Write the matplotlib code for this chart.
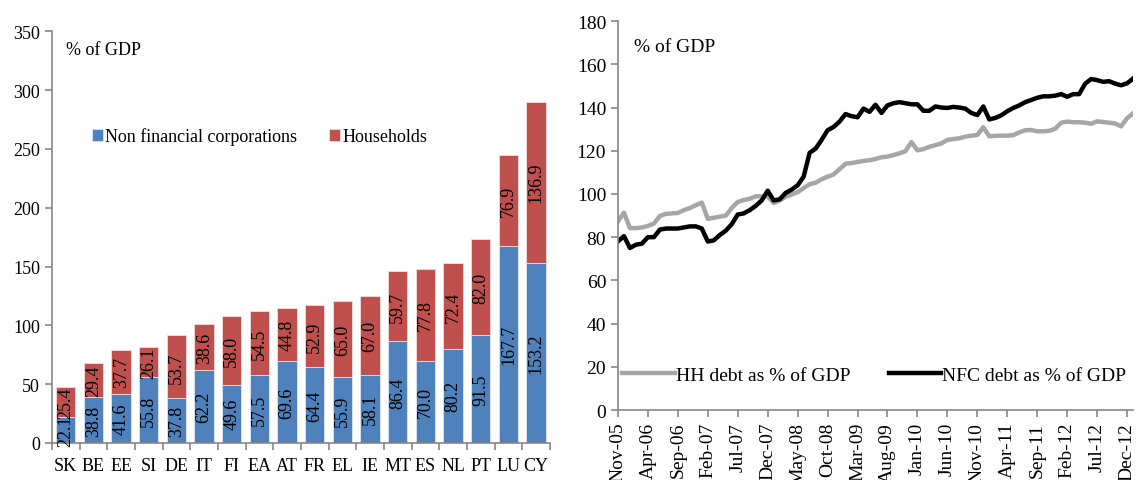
import matplotlib
matplotlib.use("Agg")
import matplotlib.pyplot as plt
import numpy as np

plt.rcParams['font.family'] = ['Liberation Serif', 'DejaVu Serif']

# Left panel: debt by sector, % of GDP
countries = ['SK', 'BE', 'EE', 'SI', 'DE', 'IT', 'FI', 'EA', 'AT', 'FR',
             'EL', 'IE', 'MT', 'ES', 'NL', 'PT', 'LU', 'CY']
nfc_share = [22.1, 38.8, 41.6, 55.8, 37.8, 62.2, 49.6, 57.5, 69.6, 64.4,
             55.9, 58.1, 86.4, 70.0, 80.2, 91.5, 167.7, 153.2]
hh_share = [25.4, 29.4, 37.7, 26.1, 53.7, 38.6, 58.0, 54.5, 44.8, 52.9,
            65.0, 67.0, 59.7, 77.8, 72.4, 82.0, 76.9, 136.9]

# Right panel: monthly series Nov-05 .. Jan-13
hh_debt = [87.3, 91.3, 84.2, 84.2, 84.5, 85.2, 86.3, 89.8, 90.8, 91.0,
           91.2, 92.5, 93.5, 94.8, 96.0, 88.5, 89.0, 89.5, 90.0, 93.5,
           96.3, 97.2, 97.8, 98.9, 98.9, 98.9, 95.8, 97.0, 98.7, 99.8,
           100.8, 102.7, 104.5, 105.2, 106.8, 108.0, 109.0, 111.5, 114.0, 114.3,
           114.8, 115.3, 115.6, 116.2, 117.0, 117.3, 118.0, 118.8, 119.8, 124.0,
           120.2, 120.8, 121.8, 122.6, 123.4, 125.0, 125.4, 125.8, 126.5, 127.0,
           127.3, 130.9, 126.7, 126.9, 127.0, 127.0, 127.2, 128.5, 129.5, 129.6,
           129.0, 129.0, 129.2, 130.2, 133.0, 133.5, 133.2, 133.2, 133.0, 132.5,
           133.6, 133.3, 133.0, 132.6, 131.3, 135.0, 137.3]
nfc_debt = [78.0, 80.5, 75.0, 76.5, 77.0, 80.0, 80.0, 83.5, 84.0, 84.0,
            84.0, 84.5, 85.0, 85.0, 84.0, 78.0, 78.5, 81.0, 83.0, 86.0,
            90.5, 91.0, 92.5, 94.5, 97.0, 101.5, 97.0, 97.5, 100.5, 102.0,
            104.0, 108.0, 119.0, 121.0, 125.0, 129.5, 131.0, 133.5, 137.0, 136.0,
            135.5, 139.5, 138.0, 141.3, 137.5, 141.0, 142.0, 142.5, 142.0, 141.5,
            141.5, 138.5, 138.5, 140.5, 140.0, 139.8, 140.3, 140.0, 139.5, 137.5,
            136.5, 140.5, 134.5, 135.2, 136.4, 138.3, 139.8, 141.0, 142.5, 143.5,
            144.5, 145.2, 145.2, 145.5, 146.2, 145.0, 146.2, 146.2, 151.0, 153.2,
            152.7, 151.9, 152.2, 151.1, 150.3, 151.2, 153.4]
month_ticks = ['Nov-05', 'Apr-06', 'Sep-06', 'Feb-07', 'Jul-07', 'Dec-07',
               'May-08', 'Oct-08', 'Mar-09', 'Aug-09', 'Jan-10', 'Jun-10',
               'Nov-10', 'Apr-11', 'Sep-11', 'Feb-12', 'Jul-12', 'Dec-12']

BLUE = '#4F81BD'
RED = '#C0504D'
AXIS = '#868686'


def style_axes(ax, fs):
    for side in ['top', 'right']:
        ax.spines[side].set_visible(False)
    for side in ['left', 'bottom']:
        ax.spines[side].set_color(AXIS)
        ax.spines[side].set_linewidth(1.2)
    ax.tick_params(colors=AXIS, labelcolor='black', labelsize=fs, width=1.2, length=5)


fig = plt.figure(figsize=(11.37, 4.81), dpi=100)

# ---- left: stacked bars ----
FS1 = 13
ax1 = fig.add_axes([0.0457, 0.077, 0.438, 0.856])
x = np.arange(len(countries))
ax1.bar(x, nfc_share, width=0.7, color=BLUE, edgecolor='#DCE6F2', linewidth=0.6,
        label='Non financial corporations')
ax1.bar(x, hh_share, width=0.7, bottom=nfc_share, color=RED, edgecolor='#F2DCDB',
        linewidth=0.6, label='Households')
for i in range(len(countries)):
    ax1.text(x[i], nfc_share[i] / 2, f'{nfc_share[i]:.1f}', rotation=90,
             ha='center', va='center', fontsize=FS1)
    ax1.text(x[i], nfc_share[i] + hh_share[i] / 2, f'{hh_share[i]:.1f}', rotation=90,
             ha='center', va='center', fontsize=FS1)

style_axes(ax1, FS1)
ax1.set_xlim(-0.5, len(countries) - 0.5)
ax1.set_ylim(0, 350)
ax1.set_yticks(range(0, 351, 50))
ax1.set_xticks(x)
ax1.set_xticklabels(countries)
ax1.set_xticks(np.arange(-0.5, len(countries), 1), minor=True)
ax1.tick_params(axis='x', which='major', length=0, pad=10)
ax1.tick_params(axis='x', which='minor', length=5, color=AXIS, width=1.2)
ax1.text(0.028, 0.956, '% of GDP', transform=ax1.transAxes, fontsize=FS1, va='center')
ax1.legend(loc='center left', bbox_to_anchor=(0.08, 0.745), ncol=2, frameon=False,
           fontsize=FS1, handlelength=0.6, handleheight=0.6, handletextpad=0.15,
           columnspacing=1.75, borderaxespad=0, borderpad=0)

# ---- right: lines ----
FS2 = 14
ax2 = fig.add_axes([0.5435, 0.1455, 0.453, 0.8085])
t = np.arange(len(hh_debt))
ax2.plot(t, hh_debt, color='#A6A6A6', lw=3.2, label='HH debt as % of GDP')
ax2.plot(t, nfc_debt, color='black', lw=3.2, label='NFC debt as % of GDP')
style_axes(ax2, FS2)
ax2.set_xlim(0, len(hh_debt) - 1)
ax2.set_ylim(0, 180)
ax2.set_yticks(range(0, 181, 20))
ax2.set_xticks(np.arange(0, 5 * len(month_ticks), 5))
ax2.set_xticklabels(month_ticks, rotation=90)
ax2.text(0.032, 0.935, '% of GDP', transform=ax2.transAxes, fontsize=FS2, va='center')
ax2.legend(loc='center left', bbox_to_anchor=(0.008, 0.09), ncol=2, frameon=False,
           fontsize=FS2, handlelength=2.7, handletextpad=0.05, columnspacing=2.0,
           borderaxespad=0, borderpad=0)

fig.savefig('out.png', dpi=100)
